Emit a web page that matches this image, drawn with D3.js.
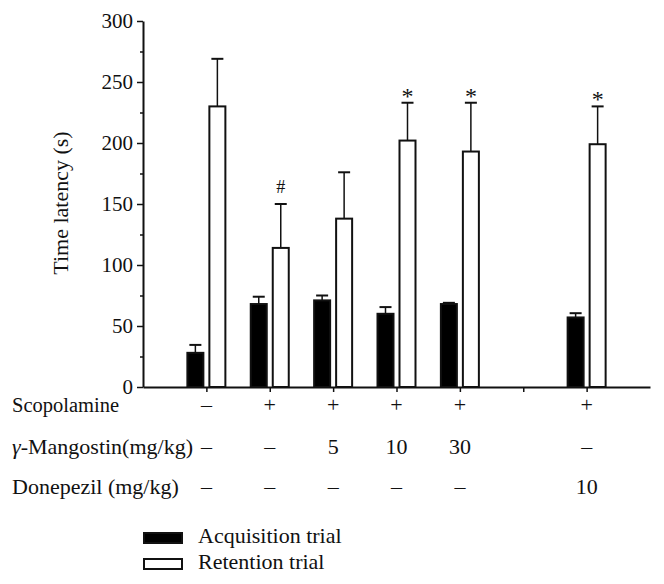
<!DOCTYPE html>
<html>
<head>
<meta charset="utf-8">
<script src="https://cdn.jsdelivr.net/npm/d3@7"></script>
<style>
  html, body { margin: 0; padding: 0; background: #fff; }
  svg { display: block; }
  text { font-family: "Liberation Serif", "Times New Roman", serif; fill: #111; }
</style>
</head>
<body>
<svg id="chart" width="664" height="584"></svg>
<script>
// ---- data ----
const groupPos = [1, 2, 3, 4, 5, 7];
const acquisition = [28, 68, 71, 60, 68, 57];
const acquisitionErr = [6.5, 6, 4, 5.5, 1, 3.5];
const retention = [230, 114, 138, 202, 193, 199];
const retentionErr = [39, 36, 38, 31, 40, 31];
const signif = ["", "#", "", "*", "*", "*"];
const scopolamine = ["–", "+", "+", "+", "+", "+"];
const mangostin = ["–", "–", "5", "10", "30", "–"];
const donepezil = ["–", "–", "–", "–", "–", "10"];
const rowLabels = ["Scopolamine", "γ-Mangostin(mg/kg)", "Donepezil (mg/kg)"];
const legendLabels = ["Acquisition trial", "Retention trial"];
const yTicks = [0, 50, 100, 150, 200, 250, 300];
const xTicks = [1, 2, 3, 4, 5, 6, 7];

const svg = d3.select("#chart");
const x = d3.scaleLinear().domain([0, 8]).range([143, 650]);
const y = d3.scaleLinear().domain([0, 300]).range([387, 21]);

const fs = 21, fs2 = 22;

// y axis
const yAxis = svg.append("g").attr("transform", `translate(${x(0)},0)`)
  .call(d3.axisLeft(y).tickValues(d3.range(0, 301, 25)).tickSize(0).tickFormat(""));
yAxis.select(".domain").attr("stroke", "#111").attr("stroke-width", 2);
yAxis.selectAll(".tick line").attr("stroke", "#111").attr("stroke-width", 1.5)
  .attr("x2", d => d % 50 === 0 ? -6 : -3);

svg.append("g").selectAll("text").data(yTicks).join("text")
  .attr("x", x(0) - 10).attr("y", d => y(d)).attr("dy", "0.34em")
  .attr("text-anchor", "end").attr("font-size", fs).text(d => d);

// x axis
const xAxis = svg.append("g").attr("transform", `translate(0,${y(0)})`)
  .call(d3.axisBottom(x).tickValues(xTicks).tickSize(5).tickSizeOuter(0).tickFormat(""));
xAxis.select(".domain").attr("stroke", "#111").attr("stroke-width", 2);
xAxis.selectAll(".tick line").attr("stroke", "#111").attr("stroke-width", 1.5);

// y label
svg.append("text").attr("transform", `translate(68,${(y(0)+y(300))/2 - 1}) rotate(-90)`)
  .attr("text-anchor", "middle").attr("font-size", fs2).text("Time latency (s)");

const bw = 16;
const data = groupPos.map((p, i) => ({p, a: acquisition[i], ae: acquisitionErr[i], r: retention[i], re: retentionErr[i], s: signif[i]}));

const bars = svg.append("g");
function errBar(cx, v, e) {
  bars.append("line").attr("x1", cx).attr("x2", cx).attr("y1", y(v)).attr("y2", y(v + e))
    .attr("stroke", "#111").attr("stroke-width", 1.5);
  bars.append("line").attr("x1", cx - 6).attr("x2", cx + 6).attr("y1", y(v + e)).attr("y2", y(v + e))
    .attr("stroke", "#111").attr("stroke-width", 2);
}
data.forEach(d => {
  errBar(x(d.p) - 11, d.a, d.ae);
  errBar(x(d.p) + 11, d.r, d.re);
});
bars.selectAll("rect.acq").data(data).join("rect").attr("class", "acq")
  .attr("x", d => x(d.p) - 19).attr("width", bw)
  .attr("y", d => y(d.a)).attr("height", d => y(0) - y(d.a))
  .attr("fill", "#000").attr("stroke", "#111").attr("stroke-width", 2);
bars.selectAll("rect.ret").data(data).join("rect").attr("class", "ret")
  .attr("x", d => x(d.p) + 3).attr("width", bw)
  .attr("y", d => y(d.r)).attr("height", d => y(0) - y(d.r))
  .attr("fill", "#fff").attr("stroke", "#111").attr("stroke-width", 2);

// significance marks
svg.append("g").selectAll("text").data(data.filter(d => d.s)).join("text")
  .attr("x", d => x(d.p) + 11)
  .attr("y", d => d.s === "#" ? y(d.r + d.re) - 11 : y(d.r + d.re) + 1)
  .attr("text-anchor", "middle")
  .attr("font-size", d => d.s === "#" ? 18 : 24)
  .text(d => d.s);

// condition rows
const rowY = [412, 454, 494];
const rowFs = [20.5, fs2, fs2];
const rows = [scopolamine, mangostin, donepezil];
rowLabels.forEach((lab, r) => {
  const t = svg.append("text").attr("x", 12).attr("y", rowY[r]).attr("font-size", rowFs[r]);
  if (lab.startsWith("γ")) {
    t.append("tspan").attr("font-style", "italic").text("γ");
    t.append("tspan").text(lab.slice(1));
  } else {
    t.text(lab);
  }
  svg.append("g").selectAll("text").data(rows[r]).join("text")
    .attr("x", (d, i) => x(groupPos[i])).attr("y", rowY[r])
    .attr("text-anchor", "middle").attr("font-size", fs2).text(d => d);
});

// legend
const legY = [532, 558];
legendLabels.forEach((lab, i) => {
  svg.append("rect").attr("x", 144).attr("y", legY[i] + 1).attr("width", 38).attr("height", 10)
    .attr("fill", i === 0 ? "#000" : "#fff").attr("stroke", "#111").attr("stroke-width", 2);
  svg.append("text").attr("x", 198).attr("y", legY[i] + 11).attr("font-size", fs2).text(lab);
});
</script>
</body>
</html>
